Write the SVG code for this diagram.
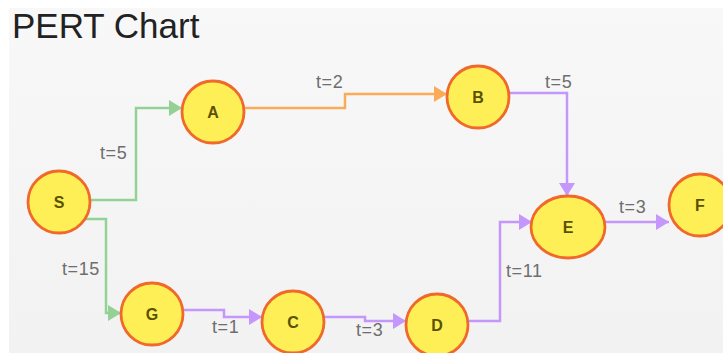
<svg xmlns="http://www.w3.org/2000/svg" width="723" height="353" viewBox="0 0 723 353">
<defs>
<linearGradient id="bg" x1="0" y1="0" x2="0" y2="1">
<stop offset="0" stop-color="#f8f8f8"/>
<stop offset="1" stop-color="#f2f2f2"/>
</linearGradient>
<marker id="ag" markerUnits="userSpaceOnUse" markerWidth="14" markerHeight="18" refX="13" refY="8" orient="auto"><path d="M0,0 L13,8 L0,16 z" fill="#93d196"/></marker>
<marker id="ao" markerUnits="userSpaceOnUse" markerWidth="14" markerHeight="18" refX="13" refY="8" orient="auto"><path d="M0,0 L13,8 L0,16 z" fill="#fbab58"/></marker>
<marker id="ap" markerUnits="userSpaceOnUse" markerWidth="14" markerHeight="18" refX="13" refY="8" orient="auto"><path d="M0,0 L13,8 L0,16 z" fill="#c596fb"/></marker>
</defs>
<style>
.e{fill:none;stroke-width:2.5}
.g{stroke:#93d196}
.o{stroke:#fbab58}
.p{stroke:#c596fb}
.n{fill:#ffef57;stroke:#f0682a;stroke-width:2.8}
.nt{font-family:"Liberation Sans",Arial,sans-serif;font-size:16px;font-weight:bold;fill:#5a5200;text-anchor:middle}
.l{font-family:"Liberation Sans",Arial,sans-serif;font-size:18px;letter-spacing:0.6px;fill:#6e6e6e}
</style>
<rect width="723" height="353" fill="#ffffff"/>
<rect x="9" y="8" width="714" height="345" fill="url(#bg)"/>
<text x="12" y="38" font-family="'Liberation Sans',Arial,sans-serif" font-size="35" fill="#222222">PERT Chart</text>
<g id="connectors">
<path class="e g" d="M90,200 H136 V108 H182" marker-end="url(#ag)"/>
<path class="e g" d="M84,219 H106 V313 H121" marker-end="url(#ag)"/>
<path class="e o" d="M244,108 H345 V94 H447" marker-end="url(#ao)"/>
<path class="e p" d="M509,93 H567 V196" marker-end="url(#ap)"/>
<path class="e p" d="M183,310 H224 V317 H262" marker-end="url(#ap)"/>
<path class="e p" d="M324,317 H365 V321 H406" marker-end="url(#ap)"/>
<path class="e p" d="M468,321 H500 V222 H532" marker-end="url(#ap)"/>
<path class="e p" d="M605,222 H669" marker-end="url(#ap)"/>
<text class="l" x="100" y="159">t=5</text>
<text class="l" x="62" y="275">t=15</text>
<text class="l" x="316" y="88">t=2</text>
<text class="l" x="545" y="88">t=5</text>
<text class="l" x="212" y="333">t=1</text>
<text class="l" x="356" y="336">t=3</text>
<text class="l" x="506" y="277">t=11</text>
<text class="l" x="619" y="213">t=3</text>
</g>
<g id="node-S"><circle class="n" cx="59" cy="202" r="31"/><text class="nt" x="59" y="208">S</text></g>
<g id="node-A"><circle class="n" cx="213" cy="112" r="31"/><text class="nt" x="213" y="118">A</text></g>
<g id="node-B"><circle class="n" cx="478" cy="97" r="31"/><text class="nt" x="478" y="103">B</text></g>
<g id="node-G"><circle class="n" cx="152" cy="314" r="31"/><text class="nt" x="152" y="320">G</text></g>
<g id="node-C"><circle class="n" cx="293" cy="322" r="31"/><text class="nt" x="293" y="328">C</text></g>
<g id="node-D"><circle class="n" cx="437" cy="325" r="31"/><text class="nt" x="437" y="331">D</text></g>
<g id="node-E"><ellipse class="n" cx="568" cy="227" rx="37" ry="31"/><text class="nt" x="568" y="233">E</text></g>
<g id="node-F"><circle class="n" cx="700" cy="205" r="31"/><text class="nt" x="700" y="211">F</text></g>
</svg>
